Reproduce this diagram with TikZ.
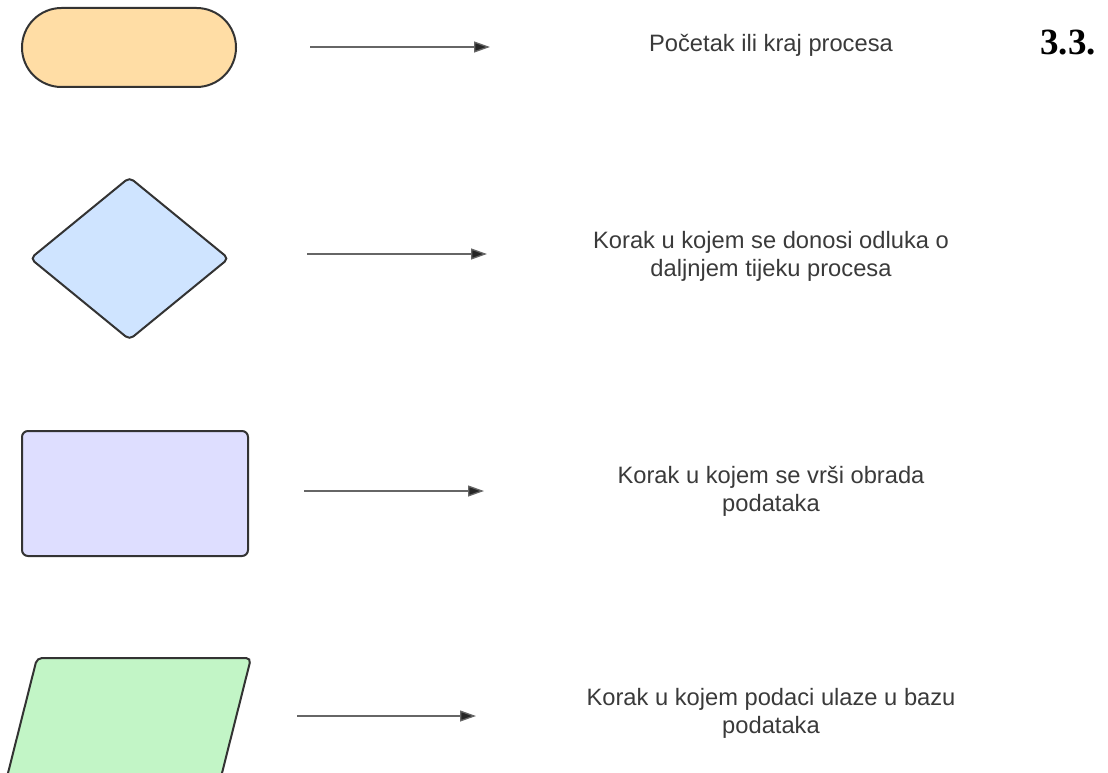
\documentclass[tikz,border=0pt]{standalone}
\usepackage{fontspec}
\setmainfont{Liberation Sans}
\newfontfamily\serifbold{Liberation Serif}
\usetikzlibrary{arrows.meta,shapes.geometric}
\definecolor{termfill}{HTML}{FFDDA5}
\definecolor{decfill}{HTML}{CFE4FF}
\definecolor{procfill}{HTML}{DEDEFF}
\definecolor{iofill}{HTML}{C2F5C6}
\definecolor{edge}{HTML}{333333}
\definecolor{txt}{HTML}{3A3A3A}
\tikzset{
  shapeline/.style={draw=edge, line width=2pt},
  conn/.style={draw=black!60, line width=1.3pt, -{Triangle[length=16pt,width=11pt,fill=black!85]}},
  desc/.style={text=txt, font=\fontsize{23.7}{28}\selectfont, align=center, inner sep=0pt},
}
\begin{document}
\begin{tikzpicture}[x=1pt,y=-1pt]
\useasboundingbox (0,0) rectangle (1108,773);
\clip (0,0) rectangle (1108,773);
% shapes
\node[shapeline, fill=termfill, rounded corners=39.5pt, minimum width=214pt, minimum height=79pt, inner sep=0pt] (term) at (129,47.5) {};
\node[shapeline, fill=decfill, diamond, aspect=1.22, minimum width=199pt, minimum height=163pt, inner sep=0pt, rounded corners=5pt] (dec) at (129.5,258.5) {};
\node[shapeline, fill=procfill, rounded corners=6pt, minimum width=226pt, minimum height=125pt, inner sep=0pt] (proc) at (135,493.5) {};
\draw[shapeline, fill=iofill, rounded corners=5pt] (37,658) -- (251,658) -- (219,785) -- (5,785) -- cycle;
% arrows
\coordinate (a1s) at (310,47); \coordinate (a1e) at (490,47);
\coordinate (a2s) at (307,254); \coordinate (a2e) at (487,254);
\coordinate (a3s) at (304,491); \coordinate (a3e) at (484,491);
\coordinate (a4s) at (297,716); \coordinate (a4e) at (476,716);
\draw[conn] (a1s) -- (a1e);
\draw[conn] (a2s) -- (a2e);
\draw[conn] (a3s) -- (a3e);
\draw[conn] (a4s) -- (a4e);
% texts
\node[desc] (t1) at (771,45) {Početak ili kraj procesa};
\node[desc] (t2) at (771,256) {Korak u kojem se donosi odluka o\\daljnjem tijeku procesa};
\node[desc] (t3) at (771,491) {Korak u kojem se vrši obrada\\podataka};
\node[desc] (t4) at (771,713) {Korak u kojem podaci ulaze u bazu\\podataka};
\node[font=\serifbold\bfseries\fontsize{37}{37}\selectfont, inner sep=0pt] (num) at (1068,43) {3.3.};
\end{tikzpicture}
\end{document}
